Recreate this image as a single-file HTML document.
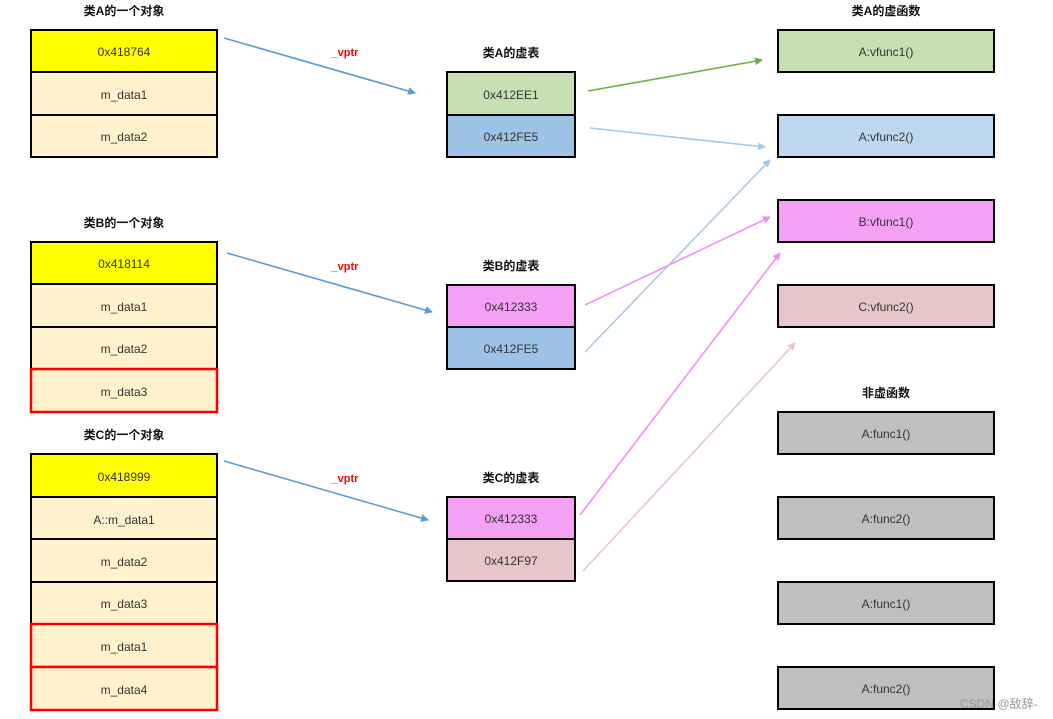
<!DOCTYPE html>
<html><head><meta charset="utf-8"><style>
html,body{margin:0;padding:0;background:#fff;width:1053px;height:719px;overflow:hidden}
text{font-family:"Liberation Sans","Noto Sans CJK SC",sans-serif}
.t{font-size:12px;fill:#333;text-anchor:middle;dominant-baseline:central}
.h{font-size:12px;font-weight:bold;fill:#111;text-anchor:middle;dominant-baseline:central}
.v{font-size:11px;font-weight:bold;fill:#f00;text-anchor:middle;dominant-baseline:central}
</style></head><body>
<svg width="1053" height="719" xmlns="http://www.w3.org/2000/svg">
<defs>
<marker id="mb" markerWidth="8" markerHeight="8" refX="7" refY="4" orient="auto" markerUnits="userSpaceOnUse"><path d="M0,0 L8,4 L0,8 z" fill="#5b9bd5"/></marker>
<marker id="mg" markerWidth="8" markerHeight="8" refX="7" refY="4" orient="auto" markerUnits="userSpaceOnUse"><path d="M0,0 L8,4 L0,8 z" fill="#70ad47"/></marker>
<marker id="mlb" markerWidth="8" markerHeight="8" refX="7" refY="4" orient="auto" markerUnits="userSpaceOnUse"><path d="M0,0 L8,4 L0,8 z" fill="#a9c8e8"/></marker>
<marker id="mp" markerWidth="8" markerHeight="8" refX="7" refY="4" orient="auto" markerUnits="userSpaceOnUse"><path d="M0,0 L8,4 L0,8 z" fill="#f090f0"/></marker>
<marker id="mr" markerWidth="8" markerHeight="8" refX="7" refY="4" orient="auto" markerUnits="userSpaceOnUse"><path d="M0,0 L8,4 L0,8 z" fill="#e6c6cc"/></marker>
</defs>
<g stroke="#000" stroke-width="2">
<!-- Object A -->
<rect x="31" y="30" width="186" height="42" fill="#ffff00"/>
<rect x="31" y="72" width="186" height="43" fill="#fff2cc"/>
<rect x="31" y="115" width="186" height="42" fill="#fff2cc"/>
<!-- Object B -->
<rect x="31" y="242" width="186" height="42" fill="#ffff00"/>
<rect x="31" y="284" width="186" height="43" fill="#fff2cc"/>
<rect x="31" y="327" width="186" height="42" fill="#fff2cc"/>
<rect x="31" y="369" width="186" height="43" fill="#fff2cc" stroke="#f00" stroke-width="2.5"/>
<!-- Object C -->
<rect x="31" y="454" width="186" height="43" fill="#ffff00"/>
<rect x="31" y="497" width="186" height="42" fill="#fff2cc"/>
<rect x="31" y="539" width="186" height="43" fill="#fff2cc"/>
<rect x="31" y="582" width="186" height="42" fill="#fff2cc"/>
<rect x="31" y="624" width="186" height="43" fill="#fff2cc" stroke="#f00" stroke-width="2.5"/>
<rect x="31" y="667" width="186" height="43" fill="#fff2cc" stroke="#f00" stroke-width="2.5"/>
<!-- Vtables -->
<rect x="447" y="72" width="128" height="43" fill="#c6e0b4"/>
<rect x="447" y="115" width="128" height="42" fill="#9dc3e6"/>
<rect x="447" y="285" width="128" height="42" fill="#f4a0f4"/>
<rect x="447" y="327" width="128" height="42" fill="#9dc3e6"/>
<rect x="447" y="497" width="128" height="42" fill="#f4a0f4"/>
<rect x="447" y="539" width="128" height="42" fill="#e6c6cc"/>
<!-- Functions -->
<rect x="778" y="30" width="216" height="42" fill="#c6e0b4"/>
<rect x="778" y="115" width="216" height="42" fill="#bdd7ee"/>
<rect x="778" y="200" width="216" height="42" fill="#f4a0f4"/>
<rect x="778" y="285" width="216" height="42" fill="#e6c6cc"/>
<rect x="778" y="412" width="216" height="42" fill="#bfbfbf"/>
<rect x="778" y="497" width="216" height="42" fill="#bfbfbf"/>
<rect x="778" y="582" width="216" height="42" fill="#bfbfbf"/>
<rect x="778" y="667" width="216" height="42" fill="#bfbfbf"/>
</g>
<!-- arrows -->
<g fill="none" stroke-width="1.6">
<line x1="224" y1="38" x2="415" y2="93" stroke="#5b9bd5" marker-end="url(#mb)"/>
<line x1="227" y1="253" x2="432" y2="312" stroke="#5b9bd5" marker-end="url(#mb)"/>
<line x1="224" y1="461" x2="428" y2="520" stroke="#5b9bd5" marker-end="url(#mb)"/>
<line x1="588" y1="91" x2="762" y2="60" stroke="#70ad47" marker-end="url(#mg)"/>
<line x1="590" y1="128" x2="765" y2="147" stroke="#a9c8e8" marker-end="url(#mlb)"/>
<line x1="585" y1="305" x2="770" y2="217" stroke="#f090f0" marker-end="url(#mp)"/>
<line x1="585" y1="352" x2="770" y2="160" stroke="#a9c8e8" marker-end="url(#mlb)"/>
<line x1="580" y1="515" x2="780" y2="253" stroke="#f090f0" marker-end="url(#mp)"/>
<line x1="583" y1="571" x2="795" y2="343" stroke="#e6c6cc" marker-end="url(#mr)"/>
</g>
<!-- headers -->
<text class="h" x="124" y="11">类A的一个对象</text>
<text class="h" x="124" y="223">类B的一个对象</text>
<text class="h" x="124" y="435">类C的一个对象</text>
<text class="h" x="511" y="53">类A的虚表</text>
<text class="h" x="511" y="266">类B的虚表</text>
<text class="h" x="511" y="478">类C的虚表</text>
<text class="h" x="886" y="11">类A的虚函数</text>
<text class="h" x="886" y="393">非虚函数</text>
<text class="v" x="345" y="53">_vptr</text>
<text class="v" x="345" y="267">_vptr</text>
<text class="v" x="345" y="479">_vptr</text>
<!-- cell text -->
<text class="t" x="124" y="52">0x418764</text>
<text class="t" x="124" y="95">m_data1</text>
<text class="t" x="124" y="137">m_data2</text>
<text class="t" x="124" y="264">0x418114</text>
<text class="t" x="124" y="307">m_data1</text>
<text class="t" x="124" y="349">m_data2</text>
<text class="t" x="124" y="392">m_data3</text>
<text class="t" x="124" y="477">0x418999</text>
<text class="t" x="124" y="520">A::m_data1</text>
<text class="t" x="124" y="562">m_data2</text>
<text class="t" x="124" y="604">m_data3</text>
<text class="t" x="124" y="647">m_data1</text>
<text class="t" x="124" y="690">m_data4</text>
<text class="t" x="511" y="95">0x412EE1</text>
<text class="t" x="511" y="137">0x412FE5</text>
<text class="t" x="511" y="307">0x412333</text>
<text class="t" x="511" y="349">0x412FE5</text>
<text class="t" x="511" y="519">0x412333</text>
<text class="t" x="511" y="561">0x412F97</text>
<text class="t" x="886" y="52">A:vfunc1()</text>
<text class="t" x="886" y="137">A:vfunc2()</text>
<text class="t" x="886" y="222">B:vfunc1()</text>
<text class="t" x="886" y="307">C:vfunc2()</text>
<text class="t" x="886" y="434">A:func1()</text>
<text class="t" x="886" y="519">A:func2()</text>
<text class="t" x="886" y="604">A:func1()</text>
<text class="t" x="886" y="689">A:func2()</text>
<text x="960" y="708" style="font-size:12px;fill:#999">CSDN @敌辞-</text>
</svg>
</body></html>
